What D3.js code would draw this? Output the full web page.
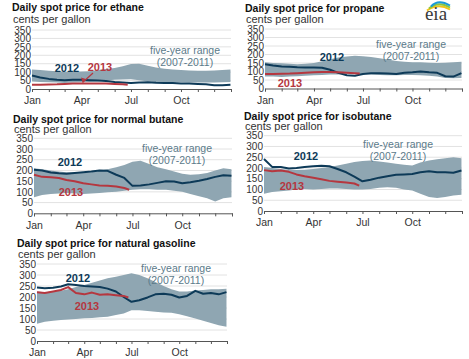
<!DOCTYPE html>
<html>
<head>
<meta charset="utf-8">
<script src="https://cdn.jsdelivr.net/npm/d3@7"></script>
<style>
  body { margin: 0; background: #fff; }
  svg { display: block; font-family: "Liberation Sans", Arial, sans-serif; }
</style>
</head>
<body>
<div id="chart"></div>
<script>
// ── Data (cents per gallon, sampled on the 1st and 16th of each month) ───────
const yTicks = [0, 50, 100, 150, 200, 250, 300, 350];
const monthLabels = ['Jan', 'Apr', 'Jul', 'Oct'];

const ethaneHi = [115, 112, 108, 105, 103, 102, 104, 106, 112, 118, 125, 135, 148, 150, 138, 128, 120, 115, 112, 110, 108, 108, 110, 112, 115];
const ethaneLo = [45, 42, 40, 38, 36, 38, 40, 42, 45, 50, 55, 57, 58, 52, 45, 42, 40, 40, 40, 38, 38, 38, 38, 40, 42];
const ethane2012 = [80, 68, 60, 55, 52, 55, 55, 52, 50, 48, 42, 38, 35, 38, 40, 37, 35, 35, 33, 33, 30, 28, 22, 22, 25];
const ethane2013 = [25, 25, 27, 28, 30, 32, 33, 33, 33, 32, 30, 28, 25];

const propaneHi = [155, 150, 148, 145, 142, 145, 150, 160, 172, 182, 188, 192, 190, 185, 178, 170, 162, 158, 155, 155, 152, 150, 152, 155, 158];
const propaneLo = [70, 70, 68, 70, 72, 75, 78, 80, 82, 82, 85, 85, 85, 82, 80, 78, 78, 80, 80, 78, 75, 70, 62, 60, 62];
const propane2012 = [142, 135, 130, 128, 125, 123, 123, 122, 110, 92, 78, 75, 85, 90, 90, 88, 85, 92, 95, 100, 95, 92, 72, 70, 90];
const propane2013 = [85, 85, 87, 88, 90, 92, 95, 97, 97, 95, 92, 90, 88];

const butaneHi = [210, 205, 200, 195, 192, 190, 190, 192, 198, 205, 215, 225, 240, 245, 230, 215, 205, 195, 185, 180, 182, 188, 200, 210, 205];
const butaneLo = [75, 85, 90, 92, 95, 92, 90, 92, 95, 98, 100, 105, 110, 112, 112, 110, 110, 105, 100, 90, 80, 70, 55, 70, 75];
const butane2012 = [203, 200, 190, 187, 185, 188, 192, 195, 200, 198, 180, 165, 128, 130, 135, 142, 150, 148, 140, 145, 152, 160, 170, 178, 175];
const butane2013 = [180, 170, 168, 165, 155, 150, 140, 135, 130, 128, 125, 118, 110];

const isobutaneHi = [205, 200, 195, 192, 190, 192, 195, 200, 205, 212, 220, 228, 232, 235, 230, 225, 220, 215, 212, 225, 235, 240, 245, 250, 245];
const isobutaneLo = [80, 88, 92, 95, 100, 102, 100, 102, 105, 105, 102, 100, 100, 102, 108, 110, 108, 100, 95, 80, 65, 60, 65, 72, 75];
const isobutane2012 = [242, 205, 205, 198, 200, 205, 208, 210, 208, 195, 180, 160, 138, 145, 155, 162, 168, 170, 172, 180, 185, 180, 180, 178, 188];
const isobutane2013 = [190, 185, 188, 182, 170, 162, 155, 148, 140, 136, 132, 128, 118];

const gasolineHi = [225, 222, 225, 228, 235, 245, 255, 265, 275, 285, 292, 300, 308, 300, 285, 268, 250, 235, 225, 225, 230, 232, 235, 235, 238];
const gasolineLo = [78, 88, 92, 95, 98, 100, 103, 105, 108, 110, 118, 125, 140, 140, 136, 133, 130, 128, 122, 112, 102, 92, 82, 72, 65];
const gasoline2012 = [243, 240, 242, 248, 258, 255, 250, 248, 245, 238, 225, 200, 178, 185, 198, 212, 215, 210, 198, 205, 228, 215, 218, 212, 222];
const gasoline2013 = [222, 218, 225, 232, 245, 218, 212, 220, 210, 212, 208, 205, 198];

// ── Layout ────────────────────────────────────────────────────────────────────
const W = 469, H = 359;
const C = {
  band: '#8fa6b2',
  y2012: '#0d3a58',
  y2013: '#b5373f',
  range: '#5b7a8a',
  grid: '#e2e2e2',
  axis: '#555',
  text: '#333'
};

const panels = [
  { title: 'Daily spot price for ethane', hi: ethaneHi, lo: ethaneLo, s12: ethane2012, s13: ethane2013,
    x0: 32, x1: 231, yTop: 30, yBot: 89, tx: 12, ty: 11, uy: 23,
    l12: [67, 72], l13: [100, 71], lr: [185, 54], arrow: true },
  { title: 'Daily spot price for propane', hi: propaneHi, lo: propaneLo, s12: propane2012, s13: propane2013,
    x0: 265, x1: 462, yTop: 29, yBot: 88.5, tx: 245, ty: 12, uy: 23,
    l12: [332, 61], l13: [290, 87], lr: [411, 48] },
  { title: 'Daily spot price for normal butane', hi: butaneHi, lo: butaneLo, s12: butane2012, s13: butane2013,
    x0: 34, x1: 232, yTop: 138.3, yBot: 213.3, tx: 13, ty: 123, uy: 133,
    l12: [70, 166], l13: [71, 196], lr: [177, 152] },
  { title: 'Daily spot price for isobutane', hi: isobutaneHi, lo: isobutaneLo, s12: isobutane2012, s13: isobutane2013,
    x0: 264, x1: 462, yTop: 135.7, yBot: 211, tx: 244, ty: 120, uy: 130,
    l12: [306, 160], l13: [292, 190], lr: [398, 148] },
  { title: 'Daily spot price for natural gasoline', hi: gasolineHi, lo: gasolineLo, s12: gasoline2012, s13: gasoline2013,
    x0: 37, x1: 227, yTop: 264, yBot: 341, tx: 17, ty: 247, uy: 258,
    l12: [78, 282], l13: [87, 310], lr: [176, 272] }
];

// half-month sample dates on a 2012 axis
function sampleDate(i) {
  if (i >= 24) return new Date(2012, 11, 31);
  return new Date(2012, Math.floor(i / 2), i % 2 ? 16 : 1);
}
// 2013 series stops in late June
function sampleDate13(i, n) {
  return i === n - 1 ? new Date(2012, 5, 25) : sampleDate(i);
}

const svg = d3.select('#chart').append('svg')
  .attr('width', W).attr('height', H);

// ── Panels ────────────────────────────────────────────────────────────────────
panels.forEach(p => {
  const g = svg.append('g');
  const x = d3.scaleTime()
    .domain([new Date(2012, 0, 1), new Date(2013, 0, 1)])
    .range([p.x0, p.x1]);
  const y = d3.scaleLinear().domain([0, 350]).range([p.yBot, p.yTop]);

  g.append('text').attr('x', p.tx).attr('y', p.ty)
    .attr('font-size', 10.5).attr('font-weight', 'bold').attr('fill', '#111')
    .text(p.title);
  g.append('text').attr('x', p.tx + 1).attr('y', p.uy)
    .attr('font-size', 11).attr('fill', C.text)
    .text('cents per gallon');

  // gridlines
  g.append('g').selectAll('line')
    .data(yTicks.filter(v => v > 0))
    .join('line')
    .attr('x1', p.x0).attr('x2', p.x1)
    .attr('y1', d => y(d)).attr('y2', d => y(d))
    .attr('stroke', C.grid).attr('stroke-width', 1);

  // y labels
  const yAxis = g.append('g')
    .attr('transform', `translate(${p.x0 - 1},0)`)
    .call(d3.axisLeft(y).tickValues(yTicks).tickSize(0).tickPadding(0));
  yAxis.select('.domain').remove();
  yAxis.selectAll('text').attr('font-size', 10).attr('fill', C.text)
    .attr('font-family', '"Liberation Sans", Arial, sans-serif');

  // five-year range band
  const band = p.hi.map((h, i) => ({ d: sampleDate(i), hi: h, lo: p.lo[i] }));
  g.append('path')
    .datum(band)
    .attr('fill', C.band)
    .attr('d', d3.area().x(d => x(d.d)).y0(d => y(d.lo)).y1(d => y(d.hi)));

  // 2012 and 2013 lines
  const line = d3.line().x(d => x(d.d)).y(d => y(d.v));
  g.append('path')
    .datum(p.s12.map((v, i) => ({ d: sampleDate(i), v })))
    .attr('fill', 'none').attr('stroke', C.y2012).attr('stroke-width', 2)
    .attr('stroke-linejoin', 'round')
    .attr('d', line);
  g.append('path')
    .datum(p.s13.map((v, i) => ({ d: sampleDate13(i, p.s13.length), v })))
    .attr('fill', 'none').attr('stroke', C.y2013).attr('stroke-width', 2)
    .attr('stroke-linejoin', 'round')
    .attr('d', line);

  // x axis
  const xAxis = g.append('g')
    .attr('transform', `translate(0,${p.yBot})`)
    .call(d3.axisBottom(x)
      .ticks(d3.timeMonth.every(1))
      .tickSize(3)
      .tickPadding(5)
      .tickFormat(d => {
        const m = d3.timeFormat('%b')(d);
        return d.getFullYear() === 2012 && monthLabels.includes(m) ? m : '';
      }));
  xAxis.select('.domain').attr('stroke', C.axis);
  xAxis.selectAll('line').attr('stroke', C.axis);
  xAxis.selectAll('text').attr('font-size', 10.5).attr('fill', C.text)
    .attr('font-family', '"Liberation Sans", Arial, sans-serif');

  // series labels
  g.append('text').attr('x', p.l12[0]).attr('y', p.l12[1])
    .attr('text-anchor', 'middle').attr('font-size', 11).attr('font-weight', 'bold')
    .attr('fill', C.y2012).text('2012');
  g.append('text').attr('x', p.l13[0]).attr('y', p.l13[1])
    .attr('text-anchor', 'middle').attr('font-size', 11).attr('font-weight', 'bold')
    .attr('fill', C.y2013).text('2013');
  g.append('text').attr('x', p.lr[0]).attr('y', p.lr[1])
    .attr('text-anchor', 'middle').attr('font-size', 10.5).attr('fill', C.range)
    .text('five-year range');
  g.append('text').attr('x', p.lr[0]).attr('y', p.lr[1] + 11.5)
    .attr('text-anchor', 'middle').attr('font-size', 10.5).attr('fill', C.range)
    .text('(2007-2011)');

  if (p.arrow) {
    const ax = p.l13[0] - 7, ay = p.l13[1] + 2;
    const bx = x(new Date(2012, 3, 3)), by = y(33) - 1;
    g.append('line')
      .attr('x1', ax).attr('y1', ay).attr('x2', bx).attr('y2', by)
      .attr('stroke', C.y2013).attr('stroke-width', 1.2);
    g.append('path')
      .attr('d', `M${bx},${by} l-1.5,-5 l4.5,1.5 z`)
      .attr('fill', C.y2013);
  }
});

// ── EIA logo ──────────────────────────────────────────────────────────────────
const logo = svg.append('g').attr('transform', 'translate(436,0)');
[['#f2c318', 7.5], ['#8cc63f', 5.5], ['#1a9ad6', 3.5]].forEach(([c, yy], i) => {
  logo.append('path')
    .attr('d', `M${-9 + i * 2},${yy + 3} Q${2},${yy - 5} ${14},${yy + 2}`)
    .attr('fill', 'none').attr('stroke', c).attr('stroke-width', 2);
});
logo.append('text')
  .attr('x', 0).attr('y', 20)
  .attr('text-anchor', 'middle')
  .attr('font-family', '"Liberation Serif", "DejaVu Serif", serif')
  .attr('font-size', 19).attr('fill', '#3a3a3a')
  .text('eia');
</script>
</body>
</html>
